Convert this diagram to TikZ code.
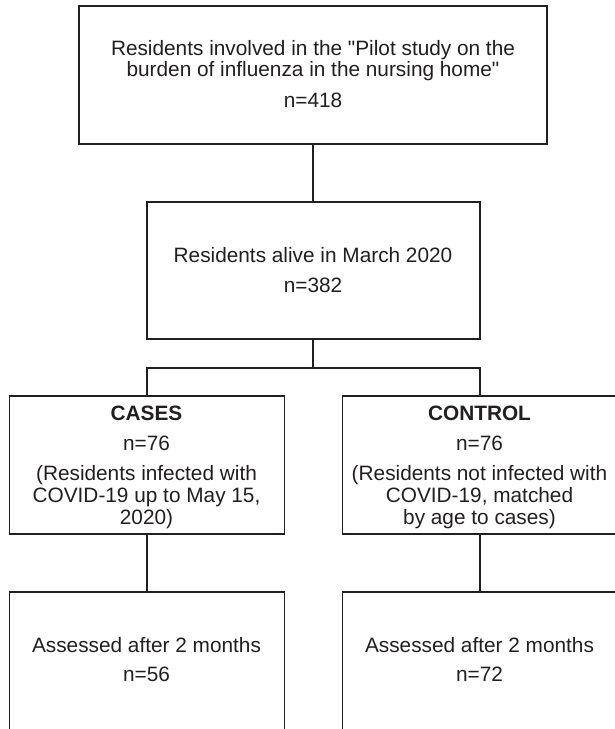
\documentclass[tikz,border=0pt]{standalone}
\usepackage{fontspec}
\setmainfont{Liberation Sans}
\definecolor{ink}{HTML}{231F20}
\begin{document}
\begin{tikzpicture}[x=1pt,y=-1pt,
  boxnode/.style={draw=ink, line width=1.8pt, inner sep=0pt, minimum height=138pt},
  txt/.style={inner sep=0pt, anchor=base, text=ink, font=\fontsize{20.8}{22}\selectfont},
  link/.style={draw=ink, line width=1.8pt}]
\fill[white] (0,0) rectangle (615,729);
\useasboundingbox (0,0) rectangle (615,729);
% boxes
\node[boxnode, minimum width=468pt] (top) at (313,75) {};
\node[boxnode, minimum width=333pt, minimum height=137pt] (mid) at (313.5,270.5) {};
\node[boxnode, minimum width=275pt] (cases) at (147,465) {};
\node[boxnode, minimum width=275pt] (control) at (480,465) {};
\node[boxnode, minimum width=275pt] (assessL) at (147,661) {};
\node[boxnode, minimum width=275pt] (assessR) at (480,661) {};
% texts
\node[txt] (t1) at (313,55) {Residents involved in the \textquotedbl Pilot study on the};
\node[txt] (t2) at (313,76.5) {burden of influenza in the nursing home\textquotedbl};
\node[txt] (t3) at (313,107) {n=418};
\node[txt] (m1) at (313,262) {Residents alive in March 2020};
\node[txt] (m2) at (313,292) {n=382};
\node[txt, font=\fontsize{20.8}{22}\selectfont\bfseries] (c1) at (146.5,420) {CASES};
\node[txt] (c2) at (146.5,450) {n=76};
\node[txt] (c3) at (146.5,480) {(Residents infected with};
\node[txt] (c4) at (146.5,502) {COVID-19 up to May 15,};
\node[txt] (c5) at (146.5,524) {2020)};
\node[txt, font=\fontsize{20.8}{22}\selectfont\bfseries] (k1) at (479.5,420) {CONTROL};
\node[txt] (k2) at (479.5,450) {n=76};
\node[txt] (k3) at (479.5,480) {(Residents not infected with};
\node[txt] (k4) at (479.5,502) {COVID-19, matched};
\node[txt] (k5) at (479.5,524) {by age to cases)};
\node[txt] (a1) at (146.5,652) {Assessed after 2 months};
\node[txt] (a2) at (146.5,681) {n=56};
\node[txt] (b1) at (479.5,652) {Assessed after 2 months};
\node[txt] (b2) at (479.5,681) {n=72};
% connectors
\coordinate (jn) at (313,368);
\draw[link] (top.south) -- (top.south |- mid.north);
\draw[link] (top.south |- mid.south) -- (jn);
\draw[link] (cases.north) |- (jn) -| (control.north);
\draw[link] (cases.south) -- (assessL.north);
\draw[link] (control.south) -- (assessR.north);
\end{tikzpicture}
\end{document}
